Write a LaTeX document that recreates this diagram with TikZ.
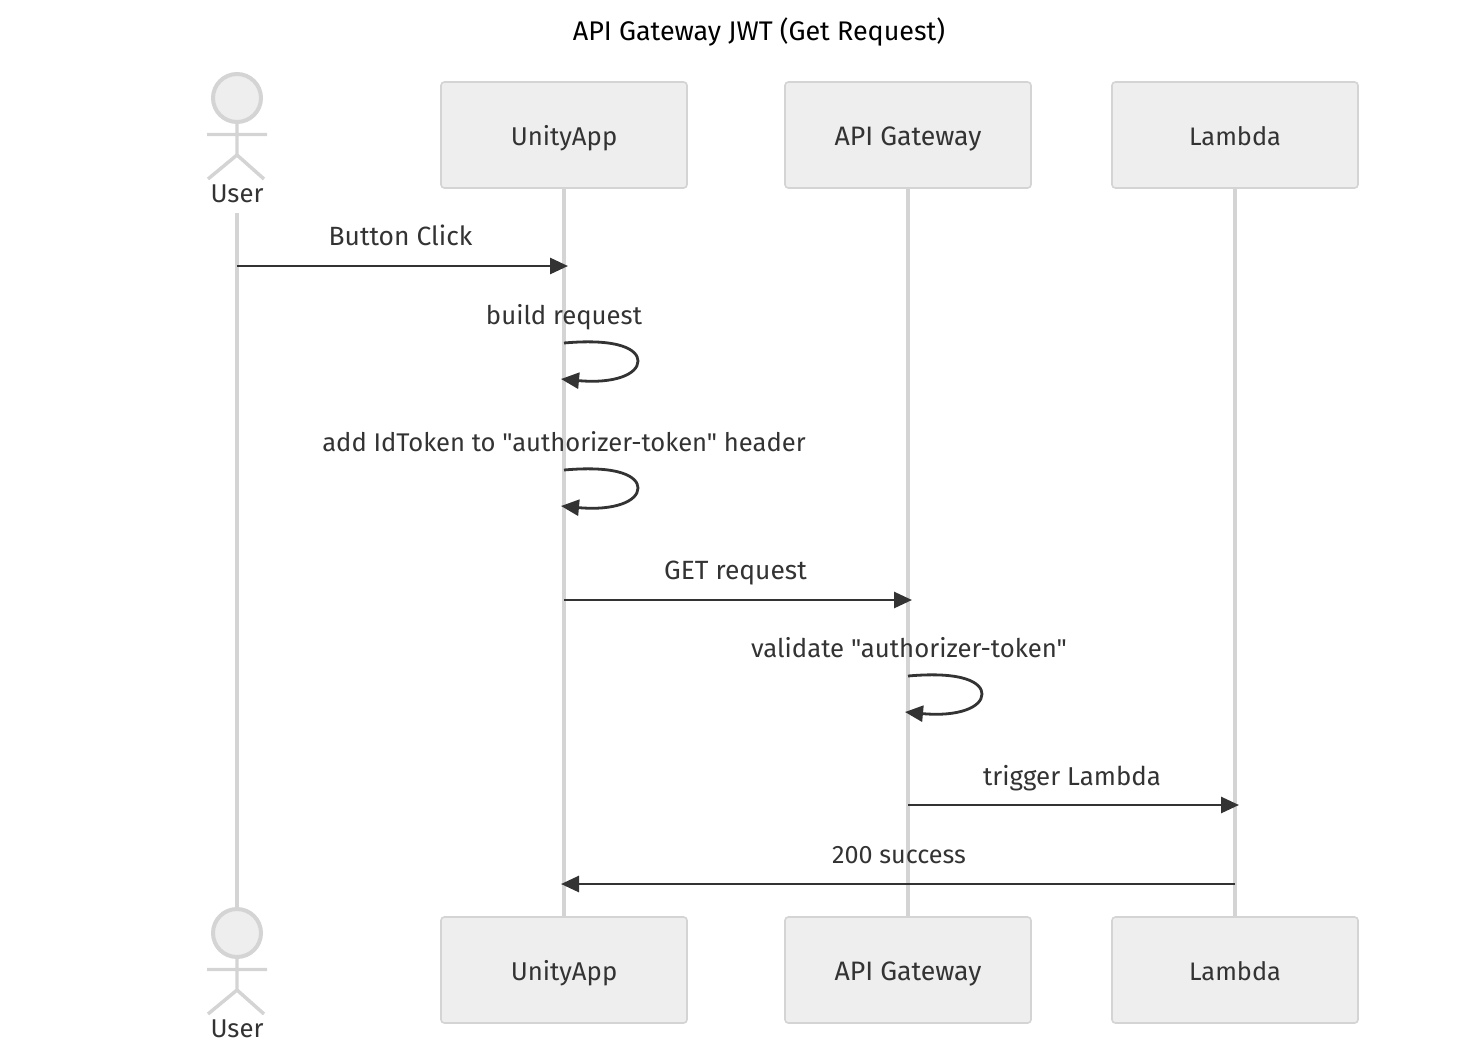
\documentclass[tikz,border=0pt]{standalone}
\usepackage{fontspec}
\newfontfamily\fira{Fira Sans}
\usetikzlibrary{arrows.meta,shapes.geometric}
\definecolor{boxfill}{HTML}{EEEEEE}
\definecolor{boxline}{HTML}{D4D4D4}
\definecolor{ink}{HTML}{333333}
\newcommand{\fs}[1]{\fira\fontsize{#1}{24}\selectfont}
\tikzset{
  px/.style={x=0.75pt,y=-0.75pt},
  actorbox/.style={draw=boxline,fill=boxfill,line width=1.2pt,rounded corners=2.5pt,minimum width=184.5pt,minimum height=79.5pt,inner sep=0pt,text=ink,text height=15pt,text depth=0pt},
  lifeline/.style={draw=boxline,line width=2.6pt},
  msg/.style={draw=ink,line width=2.1pt,-{Triangle[length=13.5pt,width=12pt,fill=ink]}},
  msgtext/.style={text=ink,inner sep=0pt,anchor=base},
  stick/.style={draw=boxline,line width=2.6pt},
  headshape/.style={circle,draw=boxline,fill=boxfill,line width=3pt,minimum size=36pt,inner sep=0pt},
  actorlabel/.style={text=ink,font=\fs{19.3},inner sep=0pt,anchor=base}
}
\begin{document}
\begin{tikzpicture}[px]
\useasboundingbox (0,0) rectangle (1473,1042);
\node[text=black,font=\fs{20.2},inner sep=0pt,anchor=base] (title) at (759,40) {API Gateway JWT (Get Request)};
\node[headshape] (headT) at (237,98) {};
\node[actorlabel] (userT) at (237,202) {User};
\node[actorbox,font=\fs{19.3}] (unityT) at (564,135) {UnityApp};
\node[actorbox,font=\fs{20}] (gateT) at (908,135) {API Gateway};
\node[actorbox,font=\fs{19}] (lambdaT) at (1235,135) {Lambda};
\node[headshape] (headB) at (237,933) {};
\node[actorlabel] (userB) at (237,1037) {User};
\node[actorbox,font=\fs{19.3}] (unityB) at (564,970) {UnityApp};
\node[actorbox,font=\fs{20}] (gateB) at (908,970) {API Gateway};
\node[actorbox,font=\fs{19}] (lambdaB) at (1235,970) {Lambda};
% stick figures
\foreach \h/\o in {headT/0,headB/835}{
  \draw[stick] (\h.south) -- (237,155+\o) (207,134.5+\o) -- (267,134.5+\o)
     (208,179+\o) -- (237,155+\o) -- (264,179+\o);
}
% lifelines
\coordinate (userTop) at (237,213);
\draw[lifeline] (userTop) -- (headB.north);
\draw[lifeline] (unityT.south) -- (unityB.north);
\draw[lifeline] (gateT.south) -- (gateB.north);
\draw[lifeline] (lambdaT.south) -- (lambdaB.north);
% messages
\coordinate (m1a) at (237,266); \coordinate (m1b) at (568,266);
\draw[msg] (m1a) -- (m1b);
\node[msgtext,font=\fs{19.8}] (t1) at (400.5,245) {Button Click};
\node[msgtext,font=\fs{19.3}] (t2) at (564,324) {build request};
\coordinate (s1) at (564,343); \coordinate (s1e) at (561,379);
\draw[msg] (s1) .. controls (620,338) and (638,350) .. (638,361) .. controls (638,374) and (615,384) .. (s1e);
\node[msgtext,font=\fs{19.2}] (t3) at (564,451) {add IdToken to "authorizer-token" header};
\coordinate (s2) at (564,470); \coordinate (s2e) at (561,506);
\draw[msg] (s2) .. controls (620,465) and (638,477) .. (638,488) .. controls (638,501) and (615,511) .. (s2e);
\coordinate (m4a) at (564,600); \coordinate (m4b) at (912,600);
\draw[msg] (m4a) -- (m4b);
\node[msgtext,font=\fs{19.8}] (t4) at (735.5,579) {GET request};
\node[msgtext,font=\fs{19.3}] (t5) at (909,657) {validate "authorizer-token"};
\coordinate (s3) at (908,676); \coordinate (s3e) at (905,712);
\draw[msg] (s3) .. controls (964,671) and (982,683) .. (982,694) .. controls (982,707) and (959,717) .. (s3e);
\coordinate (m6a) at (908,805); \coordinate (m6b) at (1239,805);
\draw[msg] (m6a) -- (m6b);
\node[msgtext,font=\fs{19.4}] (t6) at (1072,785) {trigger Lambda};
\coordinate (m7a) at (1235,884); \coordinate (m7b) at (561,884);
\draw[msg] (m7a) -- (m7b);
\node[msgtext,font=\fs{18.9}] (t7) at (899,863) {200 success};
\end{tikzpicture}
\end{document}
